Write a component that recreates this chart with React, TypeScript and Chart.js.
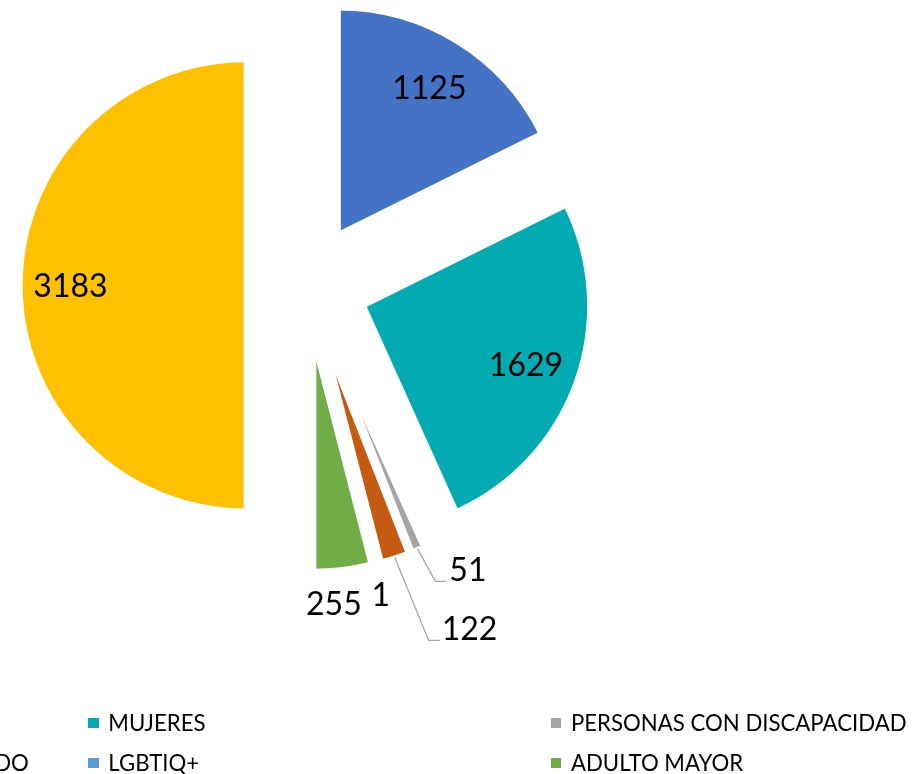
import React, { useEffect, useRef } from 'react';
import { Chart, registerables } from 'chart.js';

Chart.register(...registerables);

// ---- data ----
const categories = [
  'GRUPOS ÉTNICOS',
  'MUJERES',
  'PERSONAS CON DISCAPACIDAD',
  'VÍCTIMAS DEL CONFLICTO ARMADO',
  'LGBTIQ+',
  'ADULTO MAYOR',
  'POBLACIÓN GENERAL',
];
const values = [1125, 1629, 51, 122, 1, 255, 3183];
const colors = ['#4472C4', '#02ABB2', '#A5A5A5', '#C55A11', '#5B9BD5', '#70AD47', '#FFC000'];

// ---- label layout (relative to each exploded slice) ----
type LabelCfg = { inside: boolean; frac?: number; dx?: number; dy?: number; leader?: boolean };
const labelLayout: LabelCfg[] = [
  { inside: true, frac: 0.765 },
  { inside: true, frac: 0.765 },
  { inside: false, dx: 50, dy: 20.5, leader: true },
  { inside: false, dx: 75, dy: 71, leader: true },
  { inside: false, dx: 3, dy: 32, leader: false },
  { inside: false, dx: -9, dy: 34, leader: false },
  { inside: true, frac: 0.78 },
];

const EXPLODE = 61;
const RADIUS = 225;
const LABEL_FONT = '32px Lato';
const LEGEND_COLS = [-374.7, 88, 550.7];
const LEGEND_ROWS = [723.6, 763.6, 803.6];

const explodePlugin = {
  id: 'explodeLabels',
  beforeDatasetDraw(chart: any, args: any) {
    const ctx = chart.ctx;
    args.meta.data.forEach((arc: any) => {
      const mid = (arc.startAngle + arc.endAngle) / 2;
      ctx.save();
      ctx.translate(Math.cos(mid) * EXPLODE, Math.sin(mid) * EXPLODE);
      arc.draw(ctx);
      ctx.restore();
    });
    return false;
  },
  afterDatasetsDraw(chart: any) {
    const ctx = chart.ctx;
    const meta = chart.getDatasetMeta(0);
    const data = chart.data.datasets[0].data;
    ctx.save();
    ctx.font = LABEL_FONT;
    ctx.fillStyle = '#000000';
    ctx.textAlign = 'left';
    ctx.textBaseline = 'alphabetic';
    meta.data.forEach((arc: any, i: number) => {
      const cfg = labelLayout[i];
      const mid = (arc.startAngle + arc.endAngle) / 2;
      const ux = Math.cos(mid);
      const uy = Math.sin(mid);
      const ax = arc.x + ux * EXPLODE;
      const ay = arc.y + uy * EXPLODE;
      const r = arc.outerRadius;
      let cx: number, cy: number;
      let anchorX = 0, anchorY = 0;
      if (cfg.inside) {
        cx = ax + ux * r * (cfg.frac || 0.7);
        cy = ay + uy * r * (cfg.frac || 0.7);
      } else {
        anchorX = ax + ux * r;
        anchorY = ay + uy * r;
        cx = anchorX + (cfg.dx || 0);
        cy = anchorY + (cfg.dy || 0);
      }
      const text = String(data[i]);
      const m = ctx.measureText(text);
      const inkW = m.actualBoundingBoxRight + m.actualBoundingBoxLeft;
      const inkH = m.actualBoundingBoxAscent + m.actualBoundingBoxDescent;
      const x = cx - (m.actualBoundingBoxRight - m.actualBoundingBoxLeft) / 2;
      const y = cy + (m.actualBoundingBoxAscent - m.actualBoundingBoxDescent) / 2;
      ctx.fillText(text, x, y);
      if (!cfg.inside && cfg.leader) {
        const inkLeft = cx - inkW / 2;
        const lineY = cy + inkH / 2;
        ctx.beginPath();
        ctx.strokeStyle = '#A6A6A6';
        ctx.lineWidth = 1.3;
        ctx.moveTo(anchorX, anchorY);
        ctx.lineTo(inkLeft - 15, lineY);
        ctx.lineTo(inkLeft - 4, lineY);
        ctx.stroke();
      }
    });
    ctx.restore();
  },
};

export default function App() {
  const canvasRef = useRef<HTMLCanvasElement | null>(null);

  useEffect(() => {
    if (!canvasRef.current) return;
    const chart = new Chart(canvasRef.current, {
      type: 'pie',
      data: {
        labels: categories,
        datasets: [
          {
            data: values,
            backgroundColor: colors,
            hoverBackgroundColor: colors,
            borderColor: '#FFFFFF',
            hoverBorderColor: '#FFFFFF',
            borderWidth: 4,
            hoverBorderWidth: 4,
            borderAlign: 'center',
            offset: 0,
            hoverOffset: 0,
          } as any,
        ],
      },
      options: {
        responsive: false,
        maintainAspectRatio: false,
        devicePixelRatio: 1,
        animation: false,
        radius: RADIUS,
        events: [],
        layout: { padding: { left: 0, right: 299.6, top: 0, bottom: 203.4 } },
        plugins: {
          legend: { display: false },
          tooltip: { enabled: false },
        },
      } as any,
      plugins: [explodePlugin],
    });
    return () => chart.destroy();
  }, []);

  return (
    <div
      style={{
        position: 'fixed',
        left: 0,
        top: 0,
        width: 913,
        height: 774,
        overflow: 'hidden',
        background: '#FFFFFF',
      }}
    >
      <canvas
        ref={canvasRef}
        width={913}
        height={774}
        style={{ position: 'absolute', left: 0, top: 0, width: 913, height: 774, display: 'block' }}
      />
      {categories.map((name, i) => {
        const col = i % 3;
        const row = Math.floor(i / 3);
        return (
          <div
            key={name}
            style={{
              position: 'absolute',
              left: LEGEND_COLS[col],
              top: LEGEND_ROWS[row] - 15.6,
              height: 30,
              display: 'flex',
              alignItems: 'center',
              whiteSpace: 'nowrap',
              fontFamily: 'Lato, sans-serif',
              fontSize: 22.2,
              lineHeight: '30px',
              color: '#000000',
            }}
          >
            <span
              style={{
                display: 'inline-block',
                flex: '0 0 auto',
                width: 10.7,
                height: 10.7,
                background: colors[i],
                marginRight: 9.6,
              }}
            />
            <span>{name}</span>
          </div>
        );
      })}
    </div>
  );
}
